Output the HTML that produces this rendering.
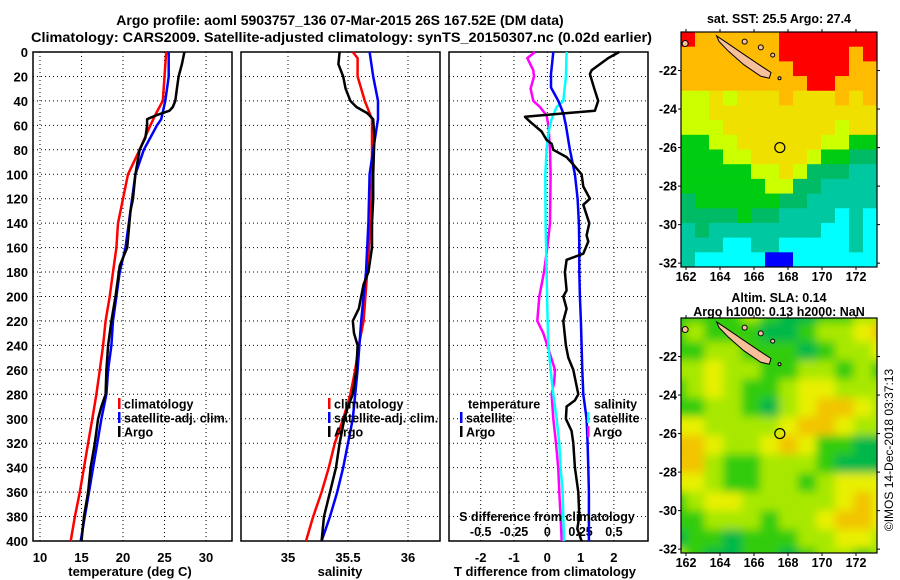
<!DOCTYPE html>
<html><head><meta charset="utf-8">
<style>
html,body{margin:0;padding:0;background:#fff;}
svg{display:block;font-family:"Liberation Sans",Arial,sans-serif;font-weight:bold;}
</style></head>
<body>
<svg id="fig" width="900" height="580" viewBox="0 0 900 580" xmlns="http://www.w3.org/2000/svg">
<text x="340" y="25" text-anchor="middle" font-size="14">Argo profile: aoml 5903757_136 07-Mar-2015 26S 167.52E (DM data)</text>
<text x="31" y="42" font-size="14" textLength="621" lengthAdjust="spacingAndGlyphs">Climatology: CARS2009. Satellite-adjusted climatology: synTS_20150307.nc (0.02d earlier)</text>
<g id="g"></g>
<text x="130" y="576" text-anchor="middle" font-size="13">temperature (deg C)</text>
<text x="340" y="576" text-anchor="middle" font-size="13">salinity</text>
<text x="545" y="576" text-anchor="middle" font-size="13">T difference from climatology</text>
<text x="547" y="521" text-anchor="middle" font-size="12.5">S difference from climatology</text>
<text x="779" y="23" text-anchor="middle" font-size="12.5">sat. SST: 25.5 Argo: 27.4</text>
<text x="779" y="302" text-anchor="middle" font-size="12.5">Altim. SLA: 0.14</text>
<text x="779" y="316" text-anchor="middle" font-size="12.5">Argo h1000: 0.13 h2000: NaN</text>
<text transform="translate(893,450) rotate(-90)" text-anchor="middle" font-size="12" font-weight="normal">©IMOS 14-Dec-2018 03:37:13</text>
</svg>
<script>
// ---------- data ----------
const depthTicks=[0,20,40,60,80,100,120,140,160,180,200,220,240,260,280,300,320,340,360,380,400];
const tempTicks=[10,15,20,25,30];
const salTicks=[35,35.5,36];
const tdiffTicks=[-2,-1,0,1,2];
const sdiffTickLabels=["-0.5","-0.25","0","0.25","0.5"];
const sdiffTicks=[-0.5,-0.25,0,0.25,0.5];

const climTDepth=[0,40,50,60,80,100,120,140,160,180,200,220,240,260,280,300,320,340,360,380,400];
const climT=[25.2,24.8,24.0,23.3,22.0,20.6,20.0,19.4,19.2,18.8,18.4,17.9,17.6,17.2,16.8,16.3,15.8,15.3,14.8,14.2,13.7];
const satTDepth=[0,20,40,55,60,80,100,120,140,160,180,200,220,240,260,280,300,320,340,360,380,400];
const satT=[25.5,25.5,25.1,24.6,24.1,22.5,21.5,21.1,20.7,20.3,19.6,19.2,18.8,18.6,18.2,18.0,17.4,16.9,16.4,15.9,15.4,14.9];
const argoTDepth=[0,10,20,30,40,45,48,52,55,60,70,80,100,120,130,160,175,200,220,240,260,280,290,300,320,340,360,380,400];
const argoT=[27.4,27.1,26.7,26.5,26.3,26.0,25.6,23.9,22.9,22.9,22.7,22.0,21.5,21.2,20.9,20.5,19.6,19.1,18.6,18.2,18.0,17.9,17.4,17.0,16.6,16.1,15.8,15.3,15.0];

const climSDepth=[0,5,20,40,55,70,100,140,180,220,240,260,280,300,320,340,360,380,400];
const climS=[35.54,35.58,35.58,35.64,35.70,35.70,35.70,35.69,35.66,35.63,35.59,35.56,35.52,35.46,35.39,35.34,35.28,35.21,35.15];
const satSDepth=[0,20,40,55,80,100,140,180,220,260,300,340,360,380,400];
const satS=[35.68,35.71,35.75,35.75,35.71,35.68,35.67,35.65,35.61,35.58,35.54,35.46,35.41,35.35,35.28];
const argoSDepth=[0,10,20,30,40,45,50,55,70,100,120,140,160,180,190,200,210,220,230,240,260,280,290,300,320,340,360,380,400];
const argoS=[35.43,35.42,35.46,35.48,35.52,35.57,35.66,35.71,35.72,35.71,35.71,35.70,35.70,35.67,35.63,35.61,35.59,35.54,35.55,35.58,35.57,35.54,35.50,35.47,35.43,35.40,35.35,35.30,35.28];

const satTdDepth=[0,18,29,40,50,60,80,100,120,140,160,180,200,220,240,260,280,300,320,340,360,380,400];
const satTd=[0.18,0.11,0.11,0.33,0.48,0.56,0.68,0.83,0.91,0.95,0.96,0.96,0.98,1.01,1.03,1.05,1.08,1.18,1.21,1.23,1.25,1.25,1.25];
const argoTdDepth=[0,5,15,18,30,40,48,50,53,57,65,72,75,80,86,92,100,110,120,125,140,150,155,165,170,180,195,200,210,220,240,250,260,280,285,290,300,310,320,340,360,380,390,400];
const argoTd=[2.16,1.83,1.33,1.28,1.41,1.53,1.43,0.58,-0.67,-0.52,-0.17,-0.02,0.13,0.18,0.58,0.78,1.03,1.08,1.28,1.08,1.26,1.18,1.23,1.08,0.58,0.53,0.58,0.48,0.58,0.48,0.56,0.63,0.78,0.93,0.83,0.58,0.56,0.73,0.78,0.83,0.93,0.96,0.90,1.03];
const satSdDepth=[0,20,40,45,55,60,70,80,100,140,180,220,240,260,280,300,320,340,360,380,400];
const satSd=[0.145,0.140,0.120,0.070,0.032,0.020,0.002,-0.005,-0.015,-0.013,-0.005,0.002,0.008,0.025,0.045,0.070,0.090,0.100,0.115,0.120,0.125];
const argoSdDepth=[0,5,15,20,30,40,45,52,60,80,100,140,160,180,200,220,230,240,260,270,280,300,320,340,360,380,400];
const argoSd=[-0.092,-0.150,-0.105,-0.100,-0.125,-0.105,-0.055,-0.005,0.008,0.020,0.025,0.020,0.000,-0.025,-0.060,-0.075,-0.030,0.000,0.058,0.052,0.032,0.045,0.065,0.082,0.090,0.100,0.108];

// map data
const lonTicks=[162,164,166,168,170,172];
const latTicks=[-22,-24,-26,-28,-30,-32];
const sstGrid=[
"ROOOOOORRRRRRR","OOOOOOORRRRROR","OOOOOOOORRRROO","OOOOOOOOORROOO",
"LLYLYYYOYYYOYO","LLYYYYYYYYYYYY","LLLYYYYYYYYLYY","GGLLYYYYYYLLGG",
"GGGLLYYYYLGGMM","GGGGGLLYLMMMTT","GGGGGGLLMMTTTT","MGGGGGGMMTTTTT",
"MMMMGMMTTTTCTC","TMTTTTTTTTCCTC","TTTCCTTCCCCCTC","TCCCCCBBCCCCCC"];
const slaGrid=[
"GGGGlGggGGll","GlGGGggGllyo","GGllGGGgGlly","llyllGGllGlG",
"GlylGGlyylll","GGllGglyooyl","yyllllyooyll","ooyllyoyGGgg",
"oolGGlllGggg","yylGGllGlyyy","Glyylllllyoy","GGlllGllyooy",
"gGGgGGGllyyl","lGggGGgGllGl"];
const sstColors={R:"#ff0000",O:"#ffbb00",Y:"#f0e000",L:"#ccff00",G:"#00cc11",M:"#00bb66",T:"#00c8a0",C:"#00ffff",B:"#0000ff"};
const slaColors={g:"#00b84a",G:"#33cc11",l:"#a8e800",y:"#e8f000",o:"#f2c400"};
const argoLon=167.52, argoLat=-26.0;

// ---------- helpers ----------
const NS="http://www.w3.org/2000/svg";
const G=document.getElementById('g');
function mk(tag,attrs,parent){const e=document.createElementNS(NS,tag);for(const k in attrs)e.setAttribute(k,attrs[k]);(parent||G).appendChild(e);return e;}
const yTop=52,yBot=541;
function yD(d){return yTop+d*(yBot-yTop)/400;}
function lin(d0,d1,r0,r1){return v=>r0+(v-d0)*(r1-r0)/(d1-d0);}
const panels=[
 {x0:33,x1:232,sx:lin(10,30,40,206),ticks:tempTicks,name:'temperature-panel'},
 {x0:241,x1:440,sx:lin(35,36,288,408),ticks:salTicks,name:'salinity-panel'},
 {x0:449,x1:648,sx:lin(0,1,547.3,580.6),ticks:tdiffTicks,name:'difference-panel'}];
const sdx=lin(0,0.25,547.3,580.6);

panels.forEach((p,i)=>{
 const pg=mk('g',{});
 
 
 depthTicks.forEach(d=>{
  if(d>0&&d<400){const l=mk('line',{x1:p.x0,x2:p.x1,y1:yD(d),y2:yD(d),stroke:'#000','stroke-width':1,'stroke-dasharray':'1,3'},pg);
  }
 });
 p.ticks.forEach(t=>{
  const x=p.sx(t);
  const l=mk('line',{x1:x,x2:x,y1:yTop,y2:yBot,stroke:'#000','stroke-width':1,'stroke-dasharray':'1,3'},pg);
  
  const tx=mk('text',{x:x,y:562,'text-anchor':'middle','font-size':13},pg);
  tx.textContent=String(t);
  
 });
 const fr=mk('rect',{x:p.x0,y:yTop,width:p.x1-p.x0,height:yBot-yTop,fill:'none',stroke:'#000','stroke-width':1.5},pg);
 
});
depthTicks.forEach(d=>{
 const t=mk('text',{x:28,y:yD(d)+5,'text-anchor':'end','font-size':13});
 t.textContent=String(d);
 
});
sdiffTicks.forEach((s,i)=>{
 const t=mk('text',{x:sdx(s),y:536,'text-anchor':'middle','font-size':12.5});
 t.textContent=sdiffTickLabels[i];
 
});

function line(depths,vals,sx,color,name,w){
 const pts=depths.map((d,i)=>sx(vals[i]).toFixed(1)+','+yD(d).toFixed(1)).join(' ');
 const e=mk('polyline',{points:pts,fill:'none',stroke:color,'stroke-width':w||2.5,'stroke-linejoin':'round'});
 
 
}
line(climTDepth,climT,panels[0].sx,'#ff0000','temp-climatology-line');
line(satTDepth,satT,panels[0].sx,'#0000ff','temp-satellite-line');
line(argoTDepth,argoT,panels[0].sx,'#000','temp-argo-line');
line(climSDepth,climS,panels[1].sx,'#ff0000','sal-climatology-line');
line(satSDepth,satS,panels[1].sx,'#0000ff','sal-satellite-line');
line(argoSDepth,argoS,panels[1].sx,'#000','sal-argo-line');
line(argoSdDepth,argoSd,sdx,'#ff00ff','sdiff-argo-line');
line(satSdDepth,satSd,sdx,'#00ffff','sdiff-satellite-line');
line(satTdDepth,satTd,panels[2].sx,'#0000ff','tdiff-satellite-line');
line(argoTdDepth,argoTd,panels[2].sx,'#000','tdiff-argo-line');

// legends
function leg(x,y,color,label,name){
 const b=mk('rect',{x:x,y:y-6,width:2.5,height:11,fill:color});
 
 const t=mk('text',{x:x+6,y:y+4.5,'font-size':12.5});
 t.textContent=label;
 
}
[[ '#ff0000','climatology'],['#0000ff','satellite-adj. clim.'],['#000','Argo']].forEach((e,i)=>{
 leg(118,404+i*14,e[0],e[1],'temp-legend-entry');
 leg(328,404+i*14,e[0],e[1],'sal-legend-entry');
});
let t1=mk('text',{x:468,y:408.5,'font-size':12.5});t1.textContent='temperature';

leg(460,418,'#0000ff','satellite','tdiff-legend-satellite');
leg(460,432,'#000','Argo','tdiff-legend-argo');
let t2=mk('text',{x:594,y:408.5,'font-size':12.5});t2.textContent='salinity';

leg(587,418,'#00ffff','satellite','sdiff-legend-satellite');
leg(587,432,'#ff00ff','Argo','sdiff-legend-argo');

// ---------- maps ----------
const defs=mk('defs',{});
const flt=mk('filter',{id:'blur',x:'-5%',y:'-5%',width:'110%',height:'110%'},defs);
mk('feGaussianBlur',{stdDeviation:4.5},flt);
const cp1=mk('clipPath',{id:'c1'},defs);mk('rect',{x:681,y:32,width:196,height:235},cp1);
const cp2=mk('clipPath',{id:'c2'},defs);mk('rect',{x:681,y:318,width:196,height:235},cp2);

function drawMap(m){
 const mg=mk('g',{});
 
 
 const inner=mk('g',{'clip-path':'url(#'+m.clip+')'},mg);
 const cells=mk('g',m.blur?{filter:'url(#blur)'}:{},inner);
 const rows=m.grid.length,cols=m.grid[0].length;
 const pad=m.blur?14:0;
 const cw=(m.w+2*pad)/cols,ch=(m.h+2*pad)/rows;
 m.grid.forEach((row,r)=>{[...row].forEach((c,k)=>{
  const e=mk('rect',{x:(m.x-pad+k*cw).toFixed(2),y:(m.y-pad+r*ch).toFixed(2),width:(cw+0.6).toFixed(2),height:(ch+0.6).toFixed(2),fill:m.colors[c]},cells);
  
  
 });});
 const lx=lon=>686+(lon-162)*17;
 const ly=lat=>m.y+(-20-lat)*m.h/12.2;
 const isl=[[163.8,-20.2],[164.3,-20.5],[165.3,-21.1],[166.3,-21.7],[167.0,-22.1],[166.9,-22.4],[166.4,-22.3],[165.4,-21.7],[164.5,-21.0],[163.95,-20.5]];
 const ip=mk('polygon',{points:isl.map(p=>lx(p[0]).toFixed(1)+','+ly(p[1]).toFixed(1)).join(' '),fill:'#f8c09a',stroke:'#000','stroke-width':1},inner);
 
 const small=[[161.95,-20.6,3],[165.45,-20.5,2.5],[166.4,-20.8,2.5],[167.1,-21.2,2],[167.5,-22.4,1.5]];
 small.forEach(s=>{const e=mk('circle',{cx:lx(s[0]),cy:ly(s[1]),r:s[2],fill:'#f8c09a',stroke:'#000','stroke-width':1},inner);
  });
 const ac=mk('circle',{cx:lx(argoLon),cy:ly(argoLat),r:5,fill:'none',stroke:'#000','stroke-width':1.2},inner);
 
 const fr=mk('rect',{x:m.x,y:m.y,width:m.w,height:m.h,fill:'none',stroke:'#000','stroke-width':1.2},mg);
 
 lonTicks.forEach(lon=>{
  const x=lx(lon);
  mk('line',{x1:x,x2:x,y1:m.y+m.h,y2:m.y+m.h+3,stroke:'#000'},mg);
  mk('line',{x1:x,x2:x,y1:m.y,y2:m.y-3,stroke:'#000'},mg);
  const t=mk('text',{x:x,y:m.y+m.h+14,'text-anchor':'middle','font-size':12.5},mg);
  t.textContent=String(lon);
  
 });
 latTicks.forEach(lat=>{
  const y=ly(lat);
  mk('line',{x1:m.x,x2:m.x-3,y1:y,y2:y,stroke:'#000'},mg);
  mk('line',{x1:m.x+m.w,x2:m.x+m.w+3,y1:y,y2:y,stroke:'#000'},mg);
  const t=mk('text',{x:m.x-4,y:y+4.5,'text-anchor':'end','font-size':12.5},mg);
  t.textContent=String(lat);
  
 });
}
drawMap({name:'sst-map',x:681,y:32,w:196,h:235,grid:sstGrid,colors:sstColors,clip:'c1',blur:false});
drawMap({name:'sla-map',x:681,y:318,w:196,h:235,grid:slaGrid,colors:slaColors,clip:'c2',blur:true});
</script>
</body></html>
